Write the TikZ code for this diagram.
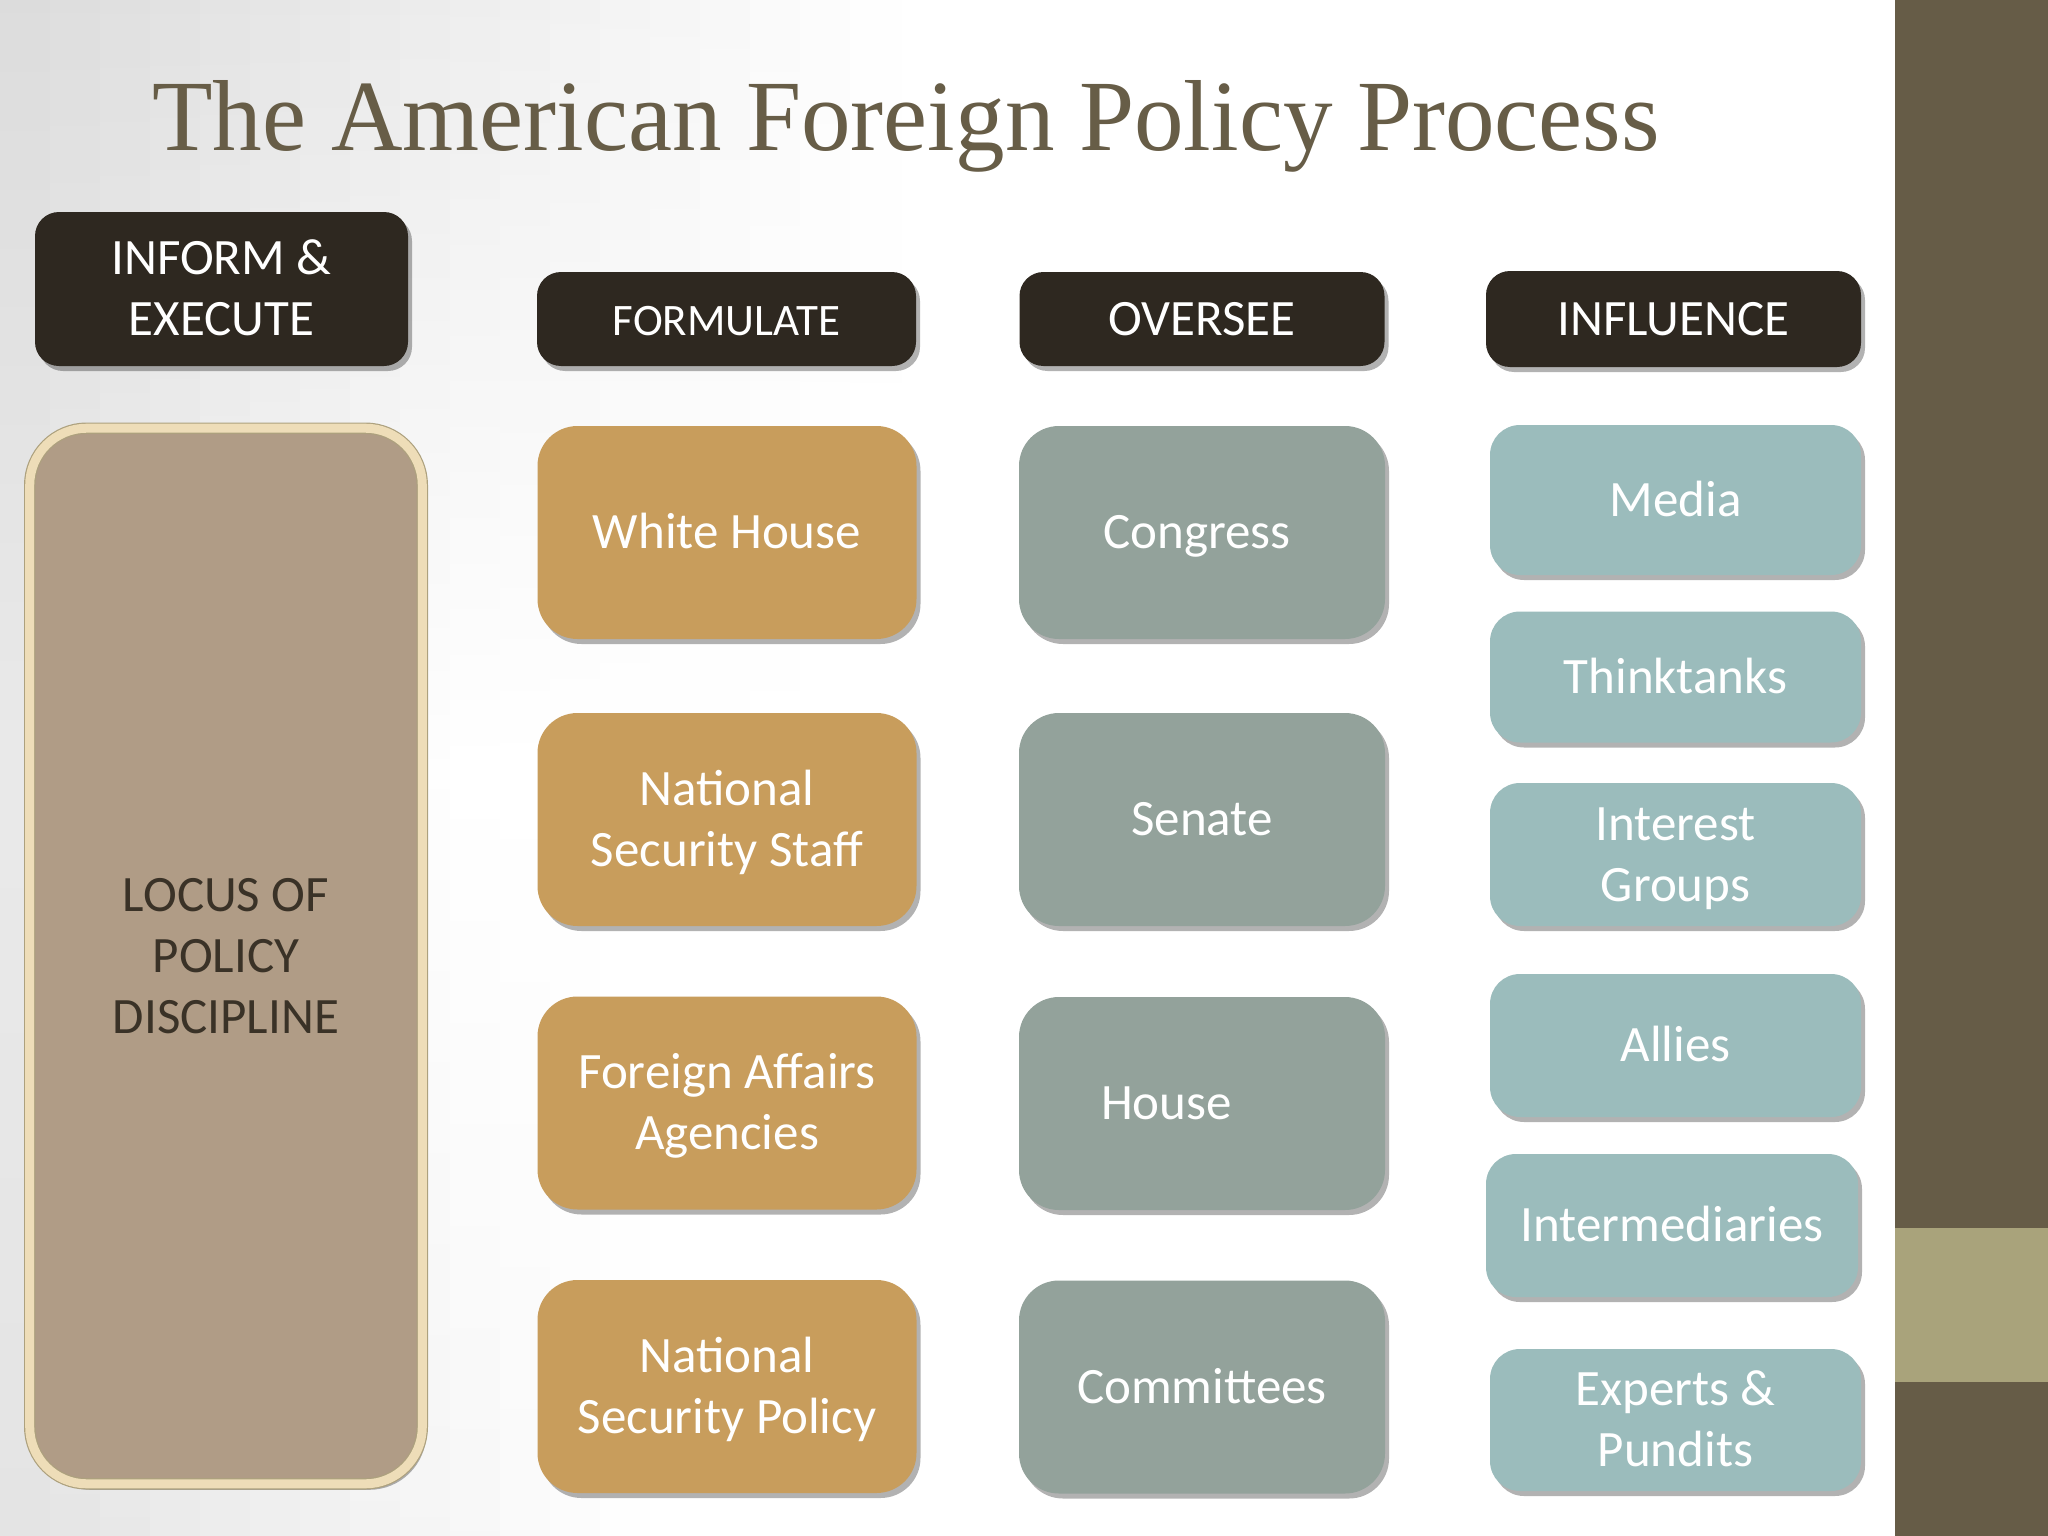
\documentclass[tikz,border=0pt]{standalone}
\usepackage{fontspec}
\setmainfont{Carlito}
\newfontfamily\titlefont{Liberation Serif}
\usetikzlibrary{shadows}
\definecolor{hdrcol}{HTML}{2E2820}
\definecolor{goldcol}{HTML}{C89D5C}
\definecolor{sagecol}{HTML}{93A29B}
\definecolor{tealcol}{HTML}{9BBCBC}
\definecolor{locuscol}{HTML}{B09C86}
\definecolor{locusedge}{HTML}{EEDDB8}
\definecolor{locusouter}{HTML}{ADA17E}
\definecolor{barcol}{HTML}{665C47}
\definecolor{barlight}{HTML}{A9A37B}
\definecolor{titlecol}{HTML}{675D47}
\definecolor{locustext}{HTML}{3A3227}
\newcommand\tstrut{\rule{0pt}{46pt}}
\newcommand\bstrut{\rule[-14pt]{0pt}{14pt}}
\begin{document}
\begin{tikzpicture}[x=1pt,y=-1pt,
  basebox/.style={inner sep=0pt, align=center, text=white,
    font=\fontsize{51}{61}\selectfont,
    drop shadow={shadow xshift=4pt, shadow yshift=-5pt, opacity=0.3, fill=black}},
  hdrbox/.style={basebox, fill=hdrcol, rounded corners=24pt},
  goldbox/.style={basebox, fill=goldcol, rounded corners=40pt, minimum width=379pt, minimum height=213pt},
  sagebox/.style={basebox, fill=sagecol, rounded corners=40pt, minimum width=366pt, minimum height=213pt},
  tealbox/.style={basebox, fill=tealcol, rounded corners=30pt, minimum width=371pt},
  locusbox/.style={inner sep=0pt, align=center, text=locustext, fill=locuscol,
    draw=locusouter, double=locusedge, line width=1.2pt, double distance=9pt,
    rounded corners=57pt,
    font=\fontsize{51}{61}\selectfont,
    drop shadow={shadow xshift=4pt, shadow yshift=-6pt, opacity=0.3, fill=black}}
]
\useasboundingbox (0,0) rectangle (2048,1536);
% background with a soft grey vignette on the left
\fill[white] (0,0) rectangle (1895,1536);
\foreach \i in {0,...,17} {
  \pgfmathsetmacro\xa{50*\i}
  \pgfmathsetmacro\xb{50*\i+51}
  \pgfmathsetmacro\xc{50*\i+25}
  \pgfmathsetmacro\gt{14*max(0,1-\xc/900)}
  \pgfmathsetmacro\gm{9*max(0,1-\xc/450)}
  \pgfmathsetmacro\gb{11*max(0,1-\xc/650)}
  \shade[top color=black!\gt, bottom color=black!\gb, middle color=black!\gm]
    (\xa,0) rectangle (\xb,1536);
}
\fill[barcol] (1895,0) rectangle (2048,1536);
\fill[barlight] (1895,1228) rectangle (2048,1382);
% title
\node[anchor=base west, inner sep=0pt, text=titlecol] (title) at (152,150)
  {\resizebox{1507pt}{70pt}{\titlefont The American Foreign Policy Process}};
% headers
\node[hdrbox, minimum width=373pt, minimum height=154pt] (inform) at (221.5,289) {\tstrut INFORM \&\\EXECUTE\bstrut};
\node[hdrbox, minimum width=379pt, minimum height=94pt, font=\fontsize{45}{55}\selectfont] (formulate) at (726.5,319) {\tstrut FORMULATE\bstrut};
\node[hdrbox, minimum width=365pt, minimum height=94pt] (oversee) at (1202,319) {\tstrut OVERSEE\bstrut};
\node[hdrbox, minimum width=375pt, minimum height=96pt] (influence) at (1673.5,319) {\tstrut INFLUENCE\bstrut};
% locus
\node[locusbox, minimum width=392.6pt, minimum height=1055.6pt] (locus) at (226,956) {\tstrut LOCUS OF\\POLICY\\DISCIPLINE\bstrut};
% formulate column
\node[goldbox] (wh) at (727,532.5) {\tstrut White House\bstrut};
\node[goldbox] (nss) at (727,819.5) {\tstrut National\\Security Staff\bstrut};
\node[goldbox] (faa) at (727,1103) {\tstrut Foreign Affairs\\Agencies\bstrut};
\node[goldbox] (nsp) at (727,1386.5) {\tstrut National\\Security Policy\bstrut};
% oversee column
\node[sagebox] (congress) at (1202,532.5) {\tstrut Congress\hspace{10pt}\bstrut};
\node[sagebox] (senate) at (1202,819.5) {\tstrut Senate\bstrut};
\node[sagebox, text width=202pt, align=left] (house) at (1202,1103.5) {\tstrut House\bstrut};
\node[sagebox] (committees) at (1202,1387) {\tstrut Committees\bstrut};
% influence column
\node[tealbox, minimum height=150pt] (media) at (1675.5,500) {\tstrut Media\bstrut};
\node[tealbox, minimum height=131pt] (think) at (1675.5,677) {\tstrut Thinktanks\bstrut};
\node[tealbox, minimum height=143pt] (interest) at (1675.5,854.5) {\tstrut Interest\\Groups\bstrut};
\node[tealbox, minimum height=143pt] (allies) at (1675.5,1045.5) {\tstrut Allies\bstrut};
\node[tealbox, minimum height=143pt, minimum width=372pt] (inter) at (1672,1225.5) {\tstrut Intermediaries\bstrut};
\node[tealbox, minimum height=142pt] (experts) at (1675.5,1420) {\tstrut Experts \&\\Pundits\bstrut};
\end{tikzpicture}
\end{document}
